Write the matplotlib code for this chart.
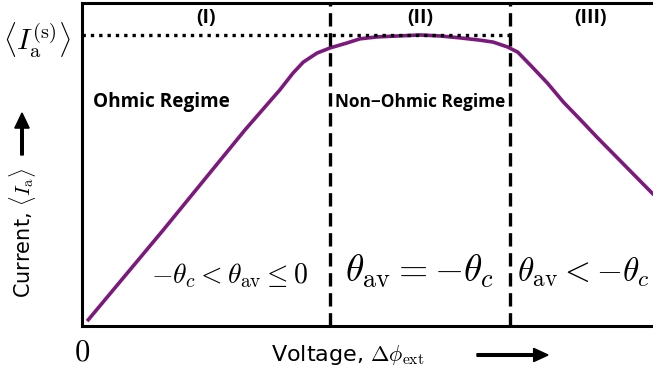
import matplotlib
matplotlib.use("Agg")
import matplotlib.pyplot as plt

plt.rcParams['mathtext.fontset'] = 'cm'

# Data (x: voltage, arbitrary units 0-10; y: current 0-1)
voltage = [0.09, 1.42, 2.85, 3.46, 3.69, 3.87, 4.11, 4.34, 4.63, 4.86, 5.16,
           5.91, 6.26, 6.61, 6.96, 7.19, 7.44, 7.62, 7.84, 8.14, 8.42, 8.72, 9.02, 10.0]
current = [0.015, 0.297, 0.607, 0.731, 0.783, 0.817, 0.845, 0.861, 0.876, 0.889, 0.895,
           0.901, 0.898, 0.892, 0.885, 0.879, 0.864, 0.848, 0.808, 0.752, 0.693, 0.638, 0.582, 0.406]
saturation = 0.901
boundaries = [4.34, 7.48]
region_labels = ['(I)', '(II)', '(III)']
region_label_x = [2.16, 5.92, 8.90]

fig = plt.figure(figsize=(6.53, 3.77), dpi=100)
ax = fig.add_axes([82/653, 1-326/377, 1-82/653 + 0.01, (326-3)/377])
ax.set_xlim(0, 10.1)
ax.set_ylim(0, 1.0)

ax.plot(voltage, current, color='#7b1a7c', lw=2.6, solid_capstyle='butt',
        solid_joinstyle='round')
ax.plot([0, boundaries[1]], [saturation, saturation], color='black', lw=2.4,
        linestyle=(0, (1.0, 1.5)))
for b in boundaries:
    ax.axvline(b, color='black', lw=2.4, linestyle=(0, (4, 2)))

for s in ['left', 'bottom', 'top']:
    ax.spines[s].set_linewidth(2.2)
ax.spines['right'].set_visible(False)

ax.set_xticks([0])
ax.set_xticklabels(['$0$'], fontsize=22)
ax.set_yticks([saturation])
ax.set_yticklabels([r'$\left\langle I_{\rm a}^{\rm (s)}\right\rangle$'], fontsize=21)
ax.tick_params(length=0, pad=8)

bold = dict(fontweight='bold', family='Open Sans')
for lab, x in zip(region_labels, region_label_x):
    ax.text(x, 0.955, lab, ha='center', va='center', fontsize=14, **bold)
ax.text(0.2, 0.695, 'Ohmic Regime', ha='left', va='center', fontsize=13.7, **bold)
ax.text(4.43, 0.695, 'Non\u2212Ohmic Regime', ha='left', va='center', fontsize=12.4, **bold)

ax.text(2.58, 0.155, r'$-\theta_c < \theta_{\rm av} \leq 0$', ha='center', va='center', fontsize=20)
ax.text(5.91, 0.168, r'$\theta_{\rm av} = -\theta_c$', ha='center', va='center', fontsize=27)
ax.text(7.6, 0.168, r'$\theta_{\rm av} < -\theta_c$', ha='left', va='center', fontsize=24)

fig.text(22/653, 1-233/377, r'Current, $\langle I_{\rm a}\rangle$', rotation=90,
         ha='center', va='center', fontsize=15, family='DejaVu Sans')
fig.text(348/653, 1-355/377, r'Voltage, $\Delta\phi_{\rm ext}$',
         ha='center', va='center', fontsize=16, family='DejaVu Sans')
fig.patches.append(matplotlib.patches.FancyArrow(
    22/653, 1-155/377, 0, 42/377, width=0.004, head_width=0.022, head_length=0.04,
    length_includes_head=True, color='black', transform=fig.transFigure, figure=fig))
fig.patches.append(matplotlib.patches.FancyArrow(
    477/653, 1-355/377, 71/653, 0, width=0.007, head_width=0.035, head_length=0.022,
    length_includes_head=True, color='black', transform=fig.transFigure, figure=fig))

fig.savefig('out.png', dpi=100)
